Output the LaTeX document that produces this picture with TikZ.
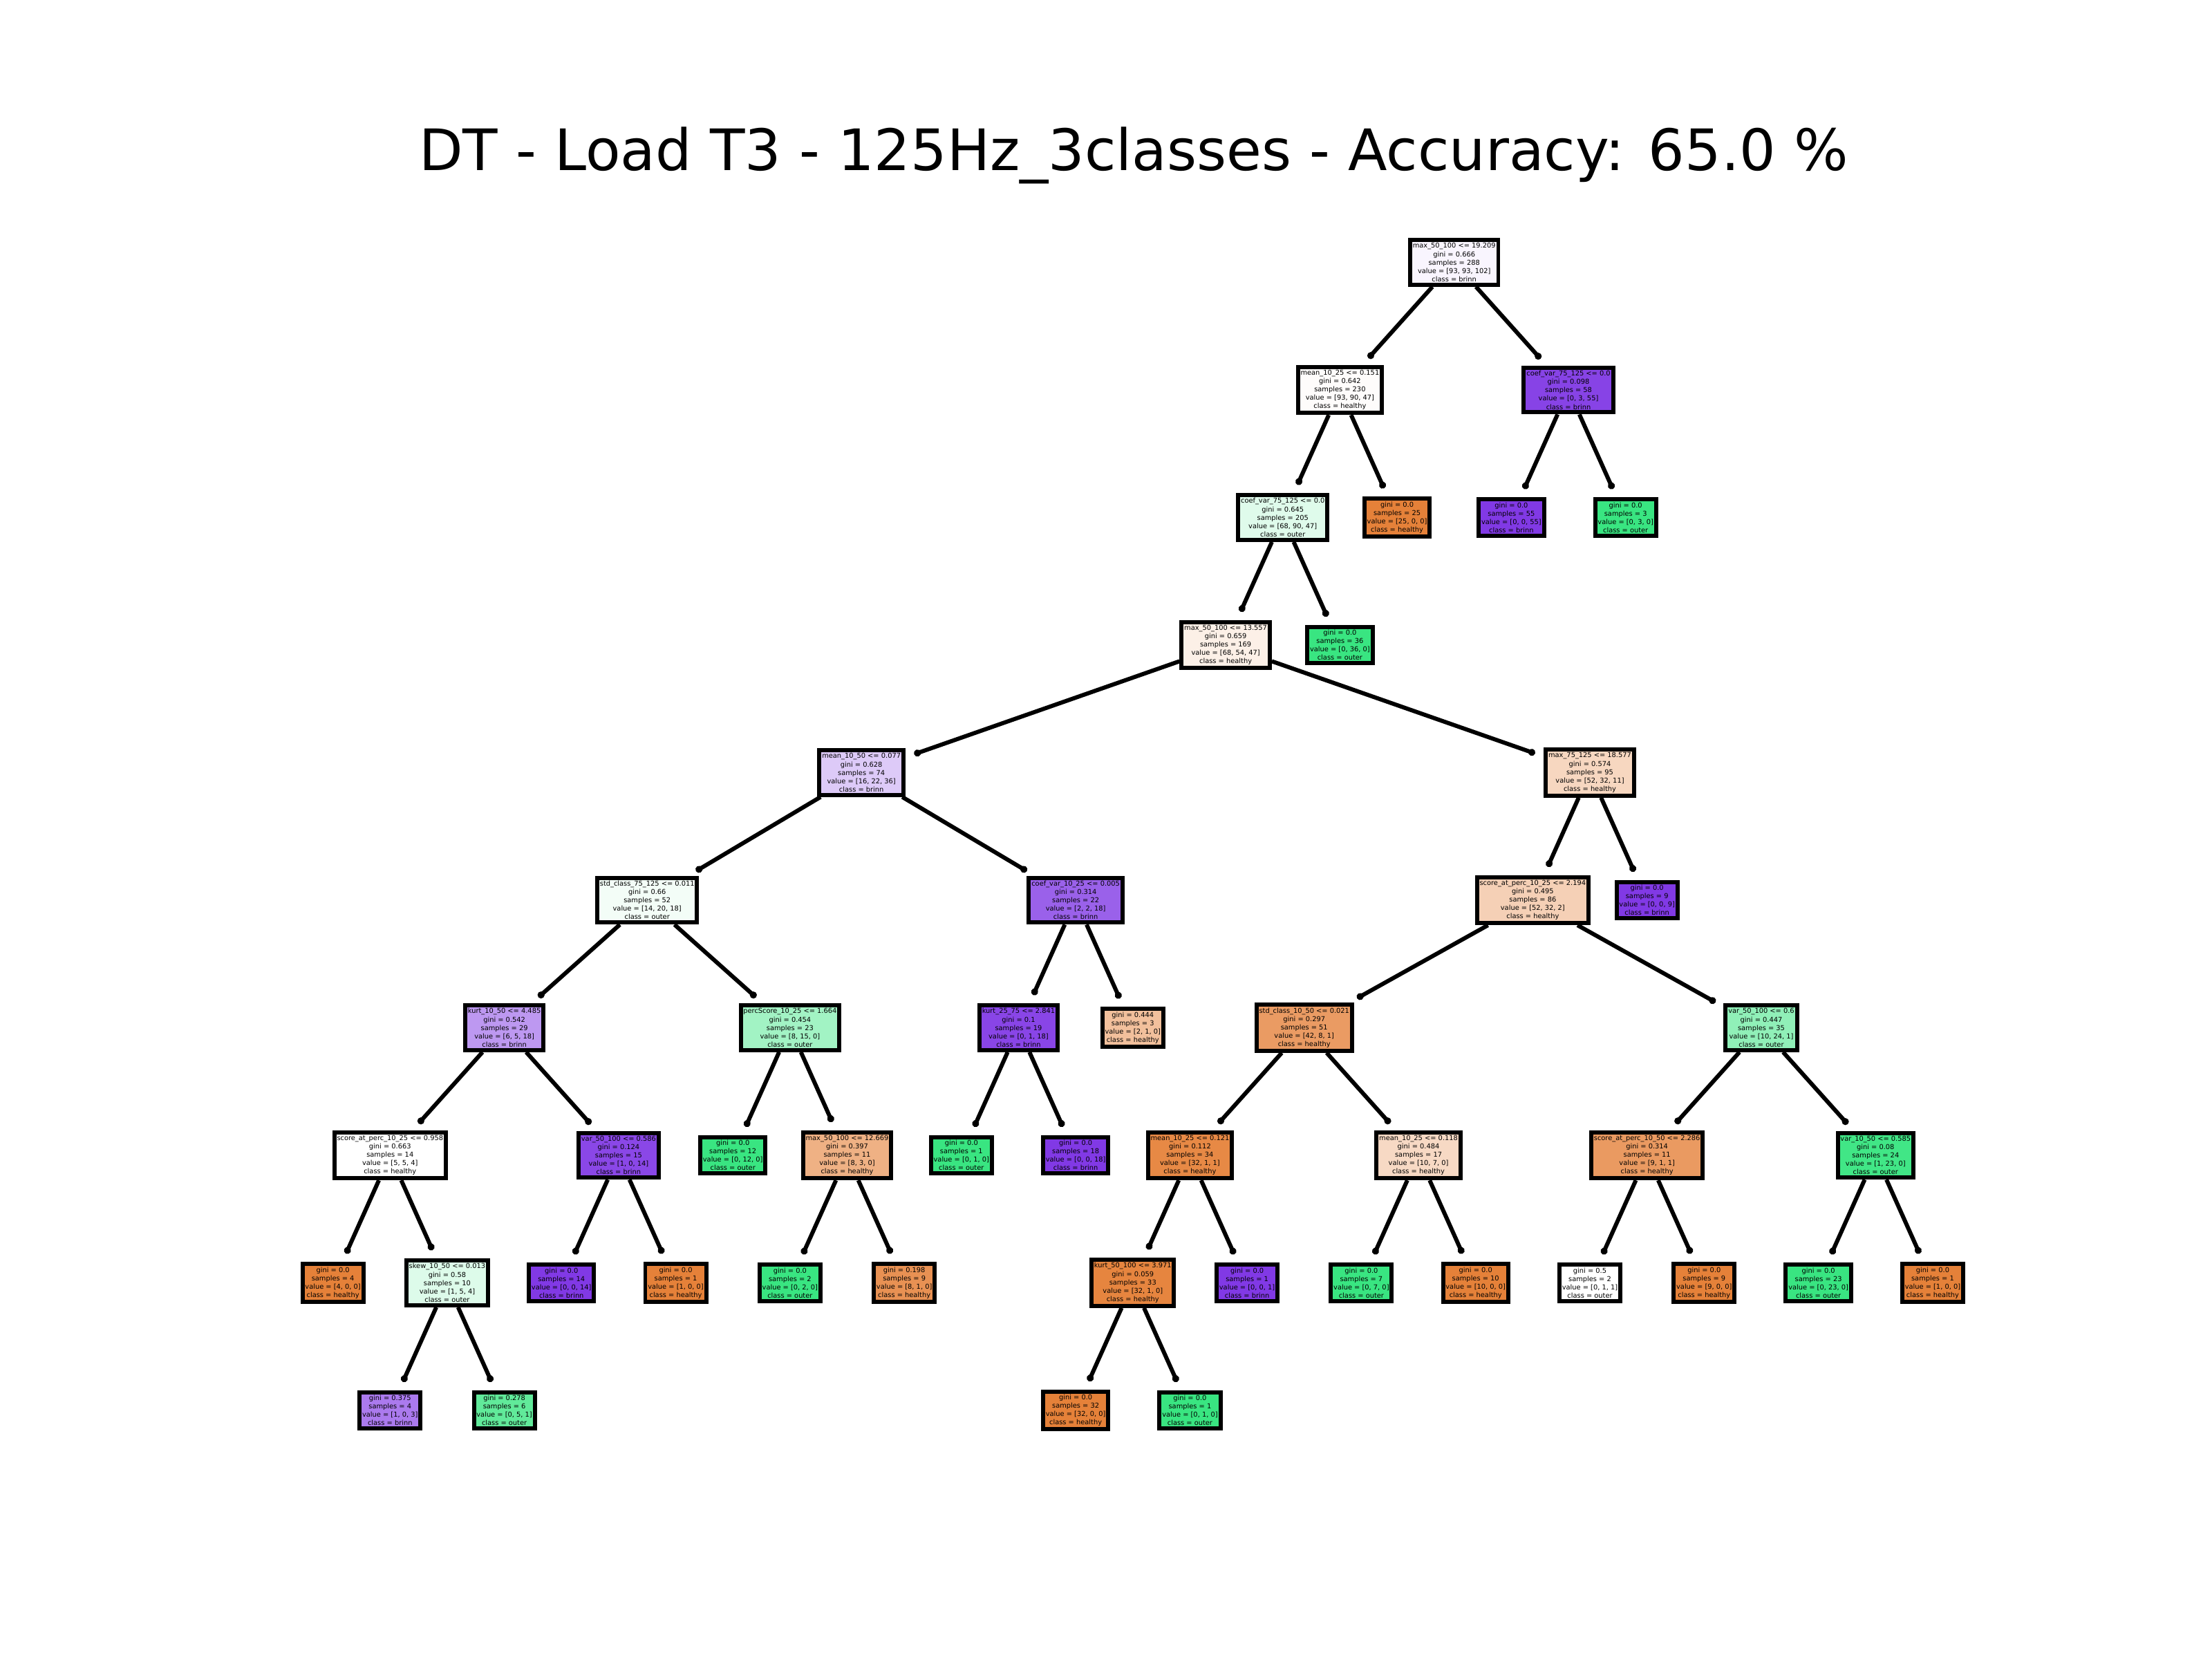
\documentclass[tikz,border=0pt]{standalone}
\usepackage{fontspec}
\setmainfont{DejaVu Sans}
\usetikzlibrary{arrows.meta}
\definecolor{healthy}{HTML}{E58139}
\definecolor{outer}{HTML}{39E581}
\definecolor{brinn}{HTML}{8139E5}
\newcommand{\dtin}[5]{#1\\gini = #2\\samples = #3\\value = #4\\class = #5}
\newcommand{\dtleaf}[4]{gini = #1\\samples = #2\\value = #3\\class = #4}
\tikzset{
  tn/.style={draw=black, line width=1.7pt, inner xsep=1.1pt, inner ysep=1.2pt, align=center, rectangle,
    font=\fontsize{2.8}{3.45}\selectfont},
  edge/.style={line width=1.7pt, -{Circle[length=2.8pt,width=2.8pt]}, shorten >=3.8pt},
  ttl/.style={font=\fontsize{23.5}{28}\selectfont, anchor=base}
}
\begin{document}
\begin{tikzpicture}[x=0.020408cm, y=-0.020408cm]
\useasboundingbox (0,0) rectangle (1568,1176);
\node[ttl] (title) at (803.5,121) {DT - Load T3 - 125Hz\_3classes - Accuracy: 65.0 \%};
% level 0
\node[tn, fill=brinn!5] (n0) at ({236+40.5*19.625},186) {\dtin{max\_50\_100 <= 19.209}{0.666}{288}{[93, 93, 102]}{brinn}};
% level 1
\node[tn, fill=healthy!2] (a1) at ({236+40.5*17.625},276.4) {\dtin{mean\_10\_25 <= 0.151}{0.642}{230}{[93, 90, 47]}{healthy}};
\node[tn, fill=brinn!95] (b1) at ({236+40.5*21.625},276.4) {\dtin{coef\_var\_75\_125 <= 0.0}{0.098}{58}{[0, 3, 55]}{brinn}};
% level 2
\node[tn, fill=outer!16] (a2) at ({236+40.5*16.625},366.8) {\dtin{coef\_var\_75\_125 <= 0.0}{0.645}{205}{[68, 90, 47]}{outer}};
\node[tn, fill=healthy] (lf25) at ({236+40.5*18.625},366.8) {\dtleaf{0.0}{25}{[25, 0, 0]}{healthy}};
\node[tn, fill=brinn] (lf55) at ({236+40.5*20.625},366.8) {\dtleaf{0.0}{55}{[0, 0, 55]}{brinn}};
\node[tn, fill=outer] (lf3) at ({236+40.5*22.625},366.8) {\dtleaf{0.0}{3}{[0, 3, 0]}{outer}};
% level 3
\node[tn, fill=healthy!12] (a3) at ({236+40.5*15.625},457.2) {\dtin{max\_50\_100 <= 13.557}{0.659}{169}{[68, 54, 47]}{healthy}};
\node[tn, fill=outer] (lf36) at ({236+40.5*17.625},457.2) {\dtleaf{0.0}{36}{[0, 36, 0]}{outer}};
% level 4
\node[tn, fill=brinn!27] (a4) at ({236+40.5*9.25},547.6) {\dtin{mean\_10\_50 <= 0.077}{0.628}{74}{[16, 22, 36]}{brinn}};
\node[tn, fill=healthy!32] (b4) at ({236+40.5*22},547.6) {\dtin{max\_75\_125 <= 18.577}{0.574}{95}{[52, 32, 11]}{healthy}};
% level 5
\node[tn, fill=outer!6] (a5) at ({236+40.5*5.5},638) {\dtin{std\_class\_75\_125 <= 0.011}{0.66}{52}{[14, 20, 18]}{outer}};
\node[tn, fill=brinn!80] (c5) at ({236+40.5*13},638) {\dtin{coef\_var\_10\_25 <= 0.005}{0.314}{22}{[2, 2, 18]}{brinn}};
\node[tn, fill=healthy!37] (b5) at ({236+40.5*21},638) {\dtin{score\_at\_perc\_10\_25 <= 2.194}{0.495}{86}{[52, 32, 2]}{healthy}};
\node[tn, fill=brinn] (lf9) at ({236+40.5*23},638) {\dtleaf{0.0}{9}{[0, 0, 9]}{brinn}};
% level 6
\node[tn, fill=brinn!52] (a6) at ({236+40.5*3},728.4) {\dtin{kurt\_10\_50 <= 4.485}{0.542}{29}{[6, 5, 18]}{brinn}};
\node[tn, fill=outer!47] (p6) at ({236+40.5*8},728.4) {\dtin{percScore\_10\_25 <= 1.664}{0.454}{23}{[8, 15, 0]}{outer}};
\node[tn, fill=brinn!94] (c6) at ({236+40.5*12},728.4) {\dtin{kurt\_25\_75 <= 2.841}{0.1}{19}{[0, 1, 18]}{brinn}};
\node[tn, fill=healthy!50] (l444) at ({236+40.5*14},728.4) {\dtleaf{0.444}{3}{[2, 1, 0]}{healthy}};
\node[tn, fill=healthy!79] (s6) at ({236+40.5*17},728.4) {\dtin{std\_class\_10\_50 <= 0.021}{0.297}{51}{[42, 8, 1]}{healthy}};
\node[tn, fill=outer!56] (v6) at ({236+40.5*25},728.4) {\dtin{var\_50\_100 <= 0.6}{0.447}{35}{[10, 24, 1]}{outer}};
% level 7
\node[tn, fill=white] (a7) at ({236+40.5*1},818.8) {\dtin{score\_at\_perc\_10\_25 <= 0.958}{0.663}{14}{[5, 5, 4]}{healthy}};
\node[tn, fill=brinn!93] (v7) at ({236+40.5*5},818.8) {\dtin{var\_50\_100 <= 0.586}{0.124}{15}{[1, 0, 14]}{brinn}};
\node[tn, fill=outer] (g12) at ({236+40.5*7},818.8) {\dtleaf{0.0}{12}{[0, 12, 0]}{outer}};
\node[tn, fill=healthy!62] (m7) at ({236+40.5*9},818.8) {\dtin{max\_50\_100 <= 12.669}{0.397}{11}{[8, 3, 0]}{healthy}};
\node[tn, fill=outer] (g1) at ({236+40.5*11},818.8) {\dtleaf{0.0}{1}{[0, 1, 0]}{outer}};
\node[tn, fill=brinn] (p18) at ({236+40.5*13},818.8) {\dtleaf{0.0}{18}{[0, 0, 18]}{brinn}};
\node[tn, fill=healthy!94] (m121) at ({236+40.5*15},818.8) {\dtin{mean\_10\_25 <= 0.121}{0.112}{34}{[32, 1, 1]}{healthy}};
\node[tn, fill=healthy!30] (m118) at ({236+40.5*19},818.8) {\dtin{mean\_10\_25 <= 0.118}{0.484}{17}{[10, 7, 0]}{healthy}};
\node[tn, fill=healthy!80] (sc7) at ({236+40.5*23},818.8) {\dtin{score\_at\_perc\_10\_50 <= 2.286}{0.314}{11}{[9, 1, 1]}{healthy}};
\node[tn, fill=outer!96] (vv7) at ({236+40.5*27},818.8) {\dtin{var\_10\_50 <= 0.585}{0.08}{24}{[1, 23, 0]}{outer}};
% level 8
\node[tn, fill=healthy] (o4) at ({236+40.5*0},909.2) {\dtleaf{0.0}{4}{[4, 0, 0]}{healthy}};
\node[tn, fill=outer!17] (sk8) at ({236+40.5*2},909.2) {\dtin{skew\_10\_50 <= 0.013}{0.58}{10}{[1, 5, 4]}{outer}};
\node[tn, fill=brinn] (p14) at ({236+40.5*4},909.2) {\dtleaf{0.0}{14}{[0, 0, 14]}{brinn}};
\node[tn, fill=healthy] (o1a) at ({236+40.5*6},909.2) {\dtleaf{0.0}{1}{[1, 0, 0]}{healthy}};
\node[tn, fill=outer] (g2) at ({236+40.5*8},909.2) {\dtleaf{0.0}{2}{[0, 2, 0]}{outer}};
\node[tn, fill=healthy!87] (l198) at ({236+40.5*10},909.2) {\dtleaf{0.198}{9}{[8, 1, 0]}{healthy}};
\node[tn, fill=healthy!97] (k8) at ({236+40.5*14},909.2) {\dtin{kurt\_50\_100 <= 3.971}{0.059}{33}{[32, 1, 0]}{healthy}};
\node[tn, fill=brinn] (p1) at ({236+40.5*16},909.2) {\dtleaf{0.0}{1}{[0, 0, 1]}{brinn}};
\node[tn, fill=outer] (g7) at ({236+40.5*18},909.2) {\dtleaf{0.0}{7}{[0, 7, 0]}{outer}};
\node[tn, fill=healthy] (o10) at ({236+40.5*20},909.2) {\dtleaf{0.0}{10}{[10, 0, 0]}{healthy}};
\node[tn, fill=white] (w2) at ({236+40.5*22},909.2) {\dtleaf{0.5}{2}{[0, 1, 1]}{outer}};
\node[tn, fill=healthy] (o9) at ({236+40.5*24},909.2) {\dtleaf{0.0}{9}{[9, 0, 0]}{healthy}};
\node[tn, fill=outer] (g23) at ({236+40.5*26},909.2) {\dtleaf{0.0}{23}{[0, 23, 0]}{outer}};
\node[tn, fill=healthy] (o1b) at ({236+40.5*28},909.2) {\dtleaf{0.0}{1}{[1, 0, 0]}{healthy}};
% level 9
\node[tn, fill=brinn!67] (l375) at ({236+40.5*1},999.6) {\dtleaf{0.375}{4}{[1, 0, 3]}{brinn}};
\node[tn, fill=outer!80] (l278) at ({236+40.5*3},999.6) {\dtleaf{0.278}{6}{[0, 5, 1]}{outer}};
\node[tn, fill=healthy] (o32) at ({236+40.5*13},999.6) {\dtleaf{0.0}{32}{[32, 0, 0]}{healthy}};
\node[tn, fill=outer] (g1b) at ({236+40.5*15},999.6) {\dtleaf{0.0}{1}{[0, 1, 0]}{outer}};
% edges
\foreach \p/\c in {n0/a1, n0/b1, a1/a2, a1/lf25, b1/lf55, b1/lf3, a2/a3, a2/lf36,
  a3/a4, a3/b4, a4/a5, a4/c5, b4/b5, b4/lf9, a5/a6, a5/p6, c5/c6, c5/l444,
  b5/s6, b5/v6, a6/a7, a6/v7, p6/g12, p6/m7, c6/g1, c6/p18, s6/m121, s6/m118,
  v6/sc7, v6/vv7, a7/o4, a7/sk8, v7/p14, v7/o1a, m7/g2, m7/l198, m121/k8, m121/p1,
  m118/g7, m118/o10, sc7/w2, sc7/o9, vv7/g23, vv7/o1b, sk8/l375, sk8/l278, k8/o32, k8/g1b}
  \draw[edge] (\p) -- (\c);
\end{tikzpicture}
\end{document}
